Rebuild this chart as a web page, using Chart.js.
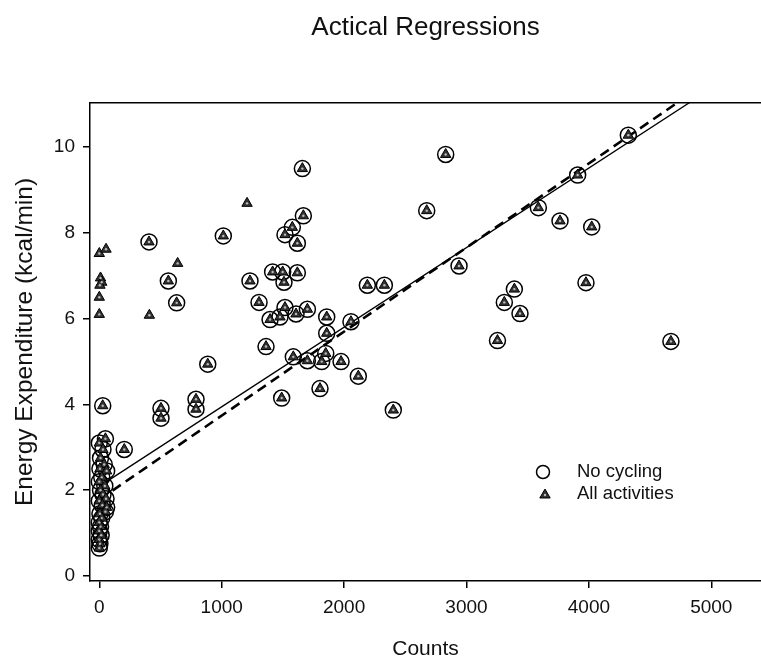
<!DOCTYPE html>
<html>
<head>
<meta charset="utf-8">
<script src="https://cdn.jsdelivr.net/npm/chart.js@4.4.1/dist/chart.umd.min.js"></script>
<style>
  html, body { margin: 0; padding: 0; background: #fff; }
  #wrap { width: 761px; height: 663px; }
</style>
</head>
<body>
<div id="wrap"><canvas id="myChartCanvas" width="761" height="663"></canvas></div>
<script>
// counts / energy expenditure
const noCyclingX = [0, 50, 30, 10, 40, 5, 60, 20, 0, 45, 10, 30, 55, 0, 25, 60, 50, 5, 20, 0, 10, 0, 15, 0, 5, 0,
  28, 204, 504, 504, 790, 790, 406, 564, 632, 886, 1013, 1231, 1305, 1362, 1395, 1416, 1498, 1476, 1490,
  1509, 1517, 1517, 1577, 1585, 1607, 1618, 1618, 1659, 1667, 1700, 1700, 1803, 1817, 1850, 1858, 1858,
  1975, 2056, 2116, 2190, 2329, 2402, 2675, 2830, 2939, 3253, 3309, 3391, 3437, 3587, 3764, 3908, 3976,
  4023, 4322, 4670];
const noCyclingY = [3.1, 3.2, 2.95, 2.75, 2.6, 2.5, 2.45, 2.3, 2.2, 2.1, 2.0, 1.9, 1.8, 1.75, 1.65, 1.6, 1.5, 1.45, 1.35, 1.25, 1.15, 1.05, 0.95, 0.85, 0.75, 0.65,
  3.97, 2.95, 3.91, 3.68, 4.12, 3.89, 7.79, 6.88, 6.37, 4.94, 7.93, 6.88, 6.38, 5.35, 5.98, 7.09, 7.09, 6.04, 4.15,
  6.85, 7.96, 6.26, 8.13, 5.11, 6.11, 7.76, 7.07, 9.50, 8.40, 6.22, 5.02, 4.37, 5.0, 5.19, 6.04, 5.66,
  5.0, 5.93, 4.66, 6.78, 6.78, 3.87, 8.52, 9.83, 7.23, 5.49, 6.38, 6.69, 6.12, 8.59, 8.28, 9.35, 6.84,
  8.14, 10.28, 5.47];

// points that only belong to "All activities" (cycling)
const cyclingX = [0, 55, 10, 20, 5, 0, 0, 409, 640, 1207];
const cyclingY = [7.52, 7.62, 6.95, 6.85, 6.78, 6.5, 6.1, 6.08, 7.29, 8.69];

// regression lines [intercept, slope]
const fitNoCycling = [2.09, 0.001856];
const fitAll = [1.78, 0.00196];

const xTicks = [0, 1000, 2000, 3000, 4000, 5000];
const yTicks = [0, 2, 4, 6, 8, 10];

const allX = noCyclingX.concat(cyclingX);
const allY = noCyclingY.concat(cyclingY);
const toPts = (xs, ys) => xs.map((x, i) => ({ x: x, y: ys[i] }));
const linePts = (fit) => [0, 5400].map(x => ({ x: x, y: fit[0] + fit[1] * x }));

const FONT = '"Liberation Sans", Arial, sans-serif';

const legendInside = {
  id: 'legendInside',
  afterDraw(chart) {
    const ctx = chart.ctx;
    ctx.save();
    ctx.fillStyle = 'rgba(0,0,0,0)';
    ctx.strokeStyle = '#000';
    ctx.lineWidth = 1.5;
    Chart.helpers.drawPoint(ctx, { pointStyle: 'circle', radius: 6.5, borderWidth: 1.5, rotation: 0 }, 543, 472);
    ctx.fillStyle = '#333';
    ctx.lineWidth = 1;
    Chart.helpers.drawPoint(ctx, { pointStyle: 'triangle', radius: 6, borderWidth: 1, rotation: 0 }, 545, 495);
    ctx.fillStyle = '#bbb';
    Chart.helpers.drawPoint(ctx, { pointStyle: 'circle', radius: 1.2, borderWidth: 0, rotation: 0 }, 545, 495);
    ctx.font = '18.5px ' + FONT;
    ctx.fillStyle = '#111';
    ctx.textBaseline = 'middle';
    ctx.textAlign = 'left';
    ctx.fillText('No cycling', 577, 472);
    ctx.fillText('All activities', 577, 494);
    ctx.restore();
  }
};

const noPad = (s) => { s.paddingLeft = 0; s.paddingRight = 0; };

new Chart('myChartCanvas', {
  type: 'scatter',
  data: {
    datasets: [
      {
        label: 'All activities dot',
        data: toPts(allX, allY),
        pointStyle: 'circle',
        pointRadius: 1.2,
        backgroundColor: '#bbb',
        borderWidth: 0
      },
      {
        label: 'All activities',
        data: toPts(allX, allY),
        pointStyle: 'triangle',
        pointRadius: 6,
        backgroundColor: '#333',
        borderColor: '#000',
        borderWidth: 1
      },
      {
        label: 'No cycling',
        data: toPts(noCyclingX, noCyclingY),
        pointStyle: 'circle',
        pointRadius: 8,
        backgroundColor: 'rgba(0,0,0,0)',
        borderColor: '#000',
        borderWidth: 1.5
      },
      {
        label: 'No cycling fit',
        data: linePts(fitNoCycling),
        showLine: true,
        pointRadius: 0,
        borderColor: '#000',
        borderWidth: 1.3
      },
      {
        label: 'All activities fit',
        data: linePts(fitAll),
        showLine: true,
        pointRadius: 0,
        borderColor: '#000',
        borderWidth: 2.6,
        borderDash: [10, 6]
      }
    ]
  },
  options: {
    responsive: false,
    animation: false,
    devicePixelRatio: 1,
    layout: { padding: 0, autoPadding: false },
    plugins: {
      legend: { display: false },
      tooltip: { enabled: false },
      title: { display: false }
    },
    scales: {
      x: {
        type: 'linear',
        position: 'bottom',
        min: -76,
        max: 5406,
        afterFit: (s) => { s.height = 82; noPad(s); },
        afterBuildTicks: (s) => { s.ticks = xTicks.map(v => ({ value: v })); },
        ticks: { color: '#111', font: { family: FONT, size: 19 }, padding: 8, callback: (v) => String(v) },
        grid: { display: true, drawOnChartArea: false, drawTicks: true, tickLength: 7, color: '#000', lineWidth: 1.5 },
        border: { display: true, color: '#000', width: 1.5 },
        title: { display: true, text: 'Counts', color: '#111', font: { family: FONT, size: 21 }, padding: { top: 0, bottom: 1 } }
      },
      x2: {
        type: 'linear',
        position: 'top',
        min: 0,
        max: 1,
        afterFit: (s) => { s.height = 103; noPad(s); },
        ticks: { display: false },
        grid: { display: false, drawTicks: false },
        border: { display: true, color: '#000', width: 1.5 },
        title: { display: true, text: 'Actical Regressions', color: '#111', font: { family: FONT, size: 26 }, padding: { top: 12, bottom: 0 } }
      },
      y: {
        type: 'linear',
        min: -0.117,
        max: 11.03,
        afterFit: (s) => { s.width = 90; },
        afterBuildTicks: (s) => { s.ticks = yTicks.map(v => ({ value: v })); },
        ticks: { color: '#111', font: { family: FONT, size: 19 }, padding: 8 },
        grid: { display: true, drawOnChartArea: false, drawTicks: true, tickLength: 7, color: '#000', lineWidth: 1.5 },
        border: { display: true, color: '#000', width: 1.5 },
        title: { display: true, text: 'Energy Expenditure (kcal/min)', color: '#111', font: { family: FONT, size: 24.5 }, padding: { top: 11, bottom: 0 } }
      }
    }
  },
  plugins: [legendInside]
});
</script>
</body>
</html>
